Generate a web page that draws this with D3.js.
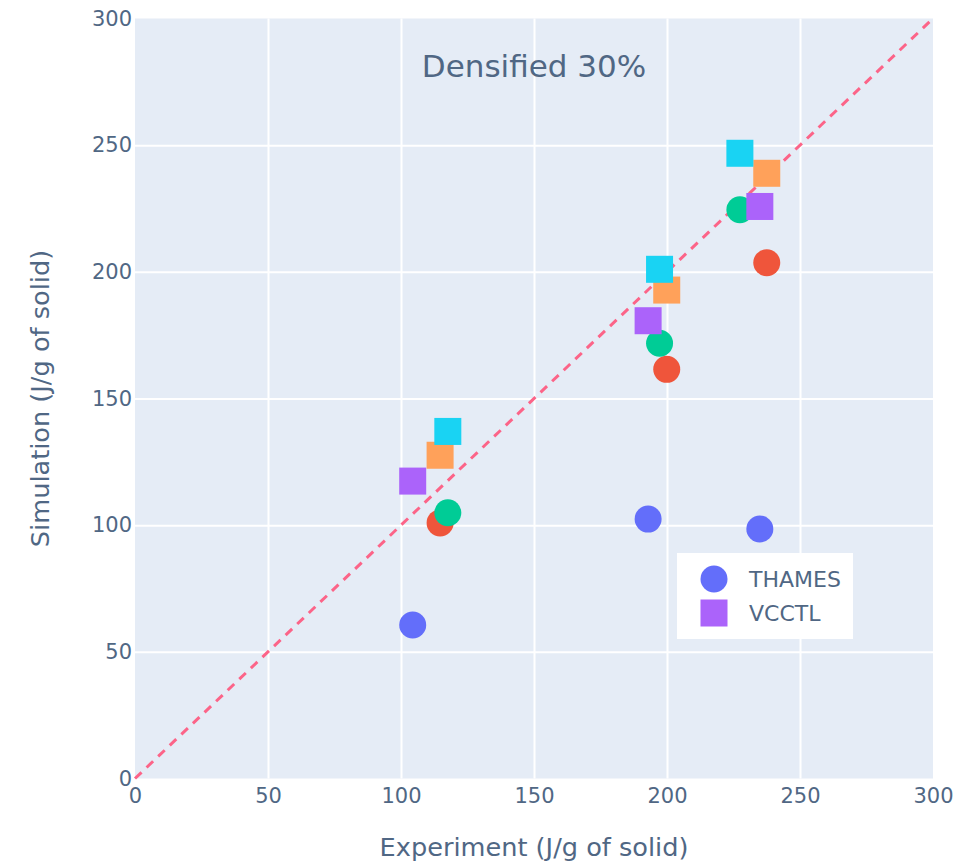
<!DOCTYPE html>
<html><head><meta charset="utf-8">
<script src="https://cdn.jsdelivr.net/npm/d3@7"></script>
<style>html,body{margin:0;padding:0;background:#fff;}</style>
</head><body>
<svg id="c" width="974" height="861"></svg>
<script>
const titleText = "Densified 30%";
const xLabel = "Experiment (J/g of solid)";
const yLabel = "Simulation (J/g of solid)";
const tickValues = [0, 50, 100, 150, 200, 250, 300];

const thamesX = [104.4, 192.9, 234.9];
const thamesY = [60.6, 102.4, 98.5];
const redX = [114.7, 199.9, 237.5];
const redY = [100.9, 161.5, 203.6];
const greenX = [117.6, 197.2, 227.4];
const greenY = [104.9, 171.8, 224.5];
const vcctlX = [104.4, 192.9, 234.9];
const vcctlY = [117.4, 180.7, 225.8];
const orangeX = [114.7, 199.9, 237.5];
const orangeY = [127.6, 192.8, 238.9];
const cyanX = [117.6, 197.2, 227.4];
const cyanY = [137.0, 201.0, 246.8];
const diagonal = [0, 300];

const series = [
  {name: "THAMES", xs: thamesX, ys: thamesY, color: "#636efa", shape: "circle", legend: true},
  {name: "s2", xs: redX, ys: redY, color: "#EF553B", shape: "circle", legend: false},
  {name: "s3", xs: greenX, ys: greenY, color: "#00cc96", shape: "circle", legend: false},
  {name: "VCCTL", xs: vcctlX, ys: vcctlY, color: "#ab63fa", shape: "square", legend: true},
  {name: "s5", xs: orangeX, ys: orangeY, color: "#FFA15A", shape: "square", legend: false},
  {name: "s6", xs: cyanX, ys: cyanY, color: "#19d3f3", shape: "square", legend: false}
];

const FONT = "'DejaVu Sans', Verdana, sans-serif";
const TXT = "#506784";
const L = 135, R = 933, T = 18.5, B = 778.5;
const svg = d3.select("#c");
const x = d3.scaleLinear().domain([0, 300]).range([L, R]);
const y = d3.scaleLinear().domain([0, 300]).range([B, T]);

svg.append("rect").attr("x", L).attr("y", T).attr("width", R - L).attr("height", B - T).attr("fill", "#e5ecf6");

// grid
const xg = svg.append("g").attr("transform", `translate(0,${B})`)
  .call(d3.axisBottom(x).tickValues(tickValues).tickSize(-(B - T)).tickFormat(""));
const yg = svg.append("g").attr("transform", `translate(${L},0)`)
  .call(d3.axisLeft(y).tickValues(tickValues).tickSize(-(R - L)).tickFormat(""));
[xg, yg].forEach(g => {
  g.select(".domain").remove();
  g.selectAll(".tick line").attr("stroke", "#fff").attr("stroke-width", 2);
});
xg.selectAll(".tick").filter(d => d === 0 || d === 300).remove();
yg.selectAll(".tick").filter(d => d === 0 || d === 300).remove();

// tick labels
const xl = svg.append("g").attr("transform", `translate(0,${B})`)
  .call(d3.axisBottom(x).tickValues(tickValues).tickSize(0).tickPadding(10));
xl.select(".domain").remove();
xl.selectAll("text").attr("font-family", FONT).attr("font-size", 21).attr("fill", TXT).attr("dy", "0.71em");
const yl = svg.append("g").attr("transform", `translate(${L},0)`)
  .call(d3.axisLeft(y).tickValues(tickValues).tickSize(0).tickPadding(3));
yl.select(".domain").remove();
yl.selectAll("text").attr("font-family", FONT).attr("font-size", 21).attr("fill", TXT);

// diagonal
svg.append("line")
  .attr("x1", x(diagonal[0])).attr("y1", y(diagonal[0]))
  .attr("x2", x(diagonal[1])).attr("y2", y(diagonal[1]))
  .attr("stroke", "#fc6488").attr("stroke-width", 3).attr("stroke-dasharray", "9,7");

// markers
const SZ = 27;
series.forEach(s => {
  const g = svg.append("g");
  const pts = s.xs.map((v, i) => [v, s.ys[i]]);
  if (s.shape === "circle") {
    g.selectAll("circle").data(pts).enter().append("circle")
      .attr("cx", d => x(d[0])).attr("cy", d => y(d[1])).attr("r", SZ / 2).attr("fill", s.color);
  } else {
    g.selectAll("rect").data(pts).enter().append("rect")
      .attr("x", d => x(d[0]) - SZ / 2).attr("y", d => y(d[1]) - SZ / 2)
      .attr("width", SZ).attr("height", SZ).attr("fill", s.color);
  }
});

// annotation title
svg.append("text").attr("x", x(150)).attr("y", 77).attr("text-anchor", "middle")
  .attr("font-family", FONT).attr("font-size", 31).attr("fill", TXT).text(titleText);

// axis titles
svg.append("text").attr("x", (L + R) / 2).attr("y", 856).attr("text-anchor", "middle")
  .attr("font-family", FONT).attr("font-size", 25.6).attr("fill", TXT).text(xLabel);
svg.append("text").attr("transform", `translate(49,${(T + B) / 2}) rotate(-90)`).attr("text-anchor", "middle")
  .attr("font-family", FONT).attr("font-size", 25.6).attr("fill", TXT).text(yLabel);

// legend
const lg = svg.append("g");
lg.append("rect").attr("x", 677).attr("y", 553).attr("width", 176).attr("height", 86).attr("fill", "#fff");
const legItems = series.filter(s => s.legend);
legItems.forEach((s, i) => {
  const cy = 579 + i * 34;
  if (s.shape === "circle") {
    lg.append("circle").attr("cx", 714).attr("cy", cy).attr("r", SZ / 2).attr("fill", s.color);
  } else {
    lg.append("rect").attr("x", 714 - SZ / 2).attr("y", cy - SZ / 2).attr("width", SZ).attr("height", SZ).attr("fill", s.color);
  }
  lg.append("text").attr("x", 749).attr("y", cy).attr("dy", "0.35em")
    .attr("font-family", FONT).attr("font-size", 22).attr("fill", TXT).text(s.name);
});
</script>
</body></html>
